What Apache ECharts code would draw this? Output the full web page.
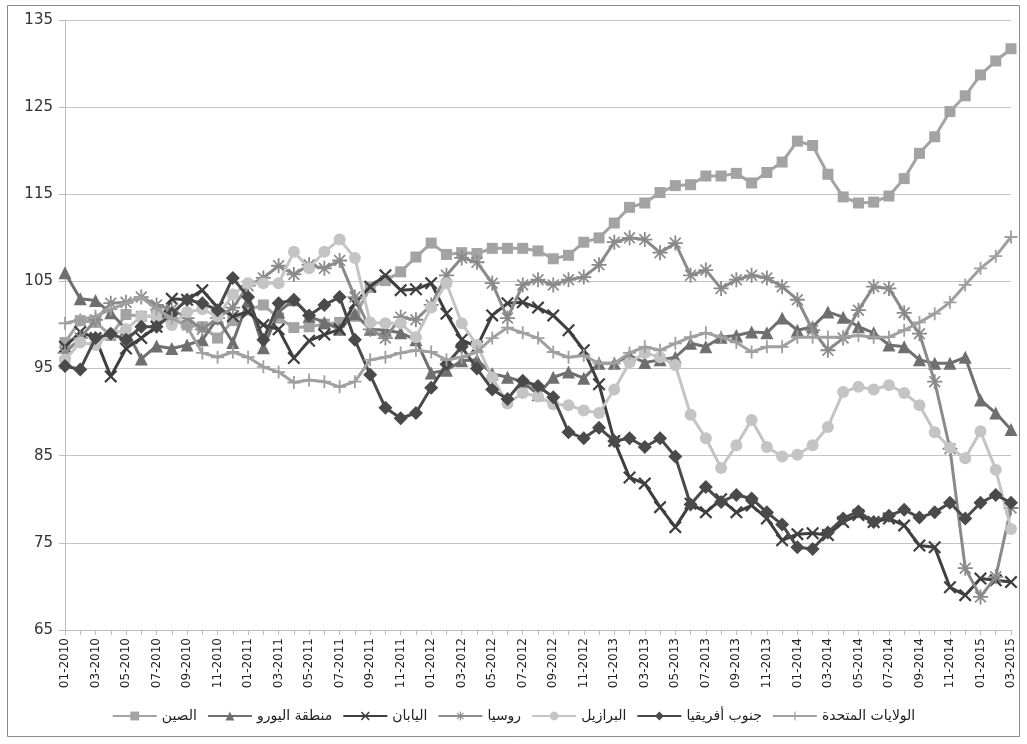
<!DOCTYPE html>
<html>
<head>
<meta charset="utf-8">
<script src="https://cdn.jsdelivr.net/npm/echarts@6/dist/echarts.min.js"></script>
<style>
html,body{margin:0;padding:0;background:#fff;}
#c{width:1027px;height:744px;}
</style>
</head>
<body>
<div id="c"></div>
<script>
const months = ['01-2010','02-2010','03-2010','04-2010','05-2010','06-2010','07-2010','08-2010','09-2010','10-2010','11-2010','12-2010',
'01-2011','02-2011','03-2011','04-2011','05-2011','06-2011','07-2011','08-2011','09-2011','10-2011','11-2011','12-2011',
'01-2012','02-2012','03-2012','04-2012','05-2012','06-2012','07-2012','08-2012','09-2012','10-2012','11-2012','12-2012',
'01-2013','02-2013','03-2013','04-2013','05-2013','06-2013','07-2013','08-2013','09-2013','10-2013','11-2013','12-2013',
'01-2014','02-2014','03-2014','04-2014','05-2014','06-2014','07-2014','08-2014','09-2014','10-2014','11-2014','12-2014',
'01-2015','02-2015','03-2015'];

const seriesNames = ['الصين','منطقة اليورو','اليابان','روسيا','البرازيل','جنوب أفريقيا','الولايات المتحدة'];

const china = [98,100.5,100.3,98.8,101.2,101,101,100.8,100,99.8,98.5,100.5,101.7,102.3,100.8,99.7,99.8,100.1,100.3,101,104.3,105.1,106.1,107.8,109.4,108.1,108.3,108.2,108.8,108.8,108.8,108.5,107.6,108,109.5,110,111.7,113.5,114,115.2,116,116.1,117.1,117.1,117.4,116.3,117.5,118.7,121.1,120.6,117.3,114.7,114,114.1,114.8,116.8,119.7,121.6,124.5,126.3,128.7,130.3,131.7];
const eurozone = [106,103,102.8,101.4,99.5,96.1,97.6,97.3,97.7,98.3,100.8,98,102.8,97.4,101.5,102.9,101,100.3,99.5,101.3,99.5,99.4,99.1,98.3,94.5,94.8,95.9,96,94.4,94,93.5,92,94,94.6,93.9,95.6,95.6,96.5,95.7,96,96.3,97.9,97.5,98.6,98.8,99.2,99.1,100.8,99.4,99.8,101.5,100.9,99.8,99.1,97.7,97.5,96,95.6,95.6,96.3,91.4,89.9,88];
const japan = [97.5,99.2,98.5,94.1,97.3,98.5,99.8,103,102.9,104,102,101,101.5,100,99.5,96.2,98.2,98.9,99.5,102.5,104.4,105.7,104,104.1,104.8,101.3,98.3,97.5,101.1,102.5,102.6,102,101.1,99.4,97.1,93.2,86.7,82.5,81.8,79.1,76.8,79.5,78.5,80,78.5,79.3,77.8,75.3,76,76.1,75.9,77.4,78.2,77.4,77.8,77,74.7,74.5,69.9,69,70.9,70.7,70.5];
const russia = [96.8,98.5,100.6,102.5,102.6,103.2,102.3,101.8,100.8,99.5,100.8,102,104.5,105.4,106.8,105.8,106.9,106.5,107.4,103.2,99.5,98.5,100.9,100.6,102.3,105.7,107.7,107.2,104.8,100.8,104.6,105.2,104.6,105.2,105.5,106.9,109.5,110,109.8,108.3,109.4,105.7,106.3,104.2,105.2,105.7,105.4,104.4,102.9,99.4,97.1,98.5,101.7,104.4,104.2,101.4,99,93.5,85.8,72.1,68.8,71.1,79];
const brazil = [96,98,97.7,99,99.5,101,101,100,101.5,101.8,101,103.5,104.8,104.8,104.8,108.4,106.5,108.4,109.8,107.7,100.3,100.2,100.2,98.6,102,104.8,100.2,97.7,94,91,92.2,91.8,90.9,90.8,90.2,89.9,92.6,95.7,96.8,96.3,95.4,89.7,87,83.6,86.2,89.1,86,84.9,85.1,86.2,88.3,92.3,92.9,92.6,93.1,92.2,90.8,87.7,85.9,84.7,87.8,83.4,76.6];
const southAfrica = [95.3,94.9,98.5,99,98.3,99.8,99.8,101.3,102.9,102.5,101.7,105.4,103.2,98.3,102.5,102.9,101.1,102.3,103.2,98.3,94.3,90.5,89.3,89.9,92.8,95.5,97.5,95,92.6,91.5,93.6,93,91.7,87.7,87,88.2,86.7,87,86,87,84.9,79.4,81.4,79.7,80.5,80.1,78.5,77.1,74.5,74.3,76.2,77.8,78.6,77.4,78.1,78.8,77.9,78.5,79.6,77.8,79.6,80.5,79.6];
const usa = [100.2,100.6,101,101.8,102.5,103.2,101.8,100.8,99.8,96.8,96.3,96.9,96.3,95.2,94.6,93.4,93.7,93.5,92.9,93.5,96,96.3,96.8,97.1,96.9,96,96.3,96.9,98.5,99.7,99.1,98.5,96.9,96.3,96.5,95.6,95.6,96.8,97.5,97.1,97.9,98.6,99.1,98.6,98,96.9,97.5,97.5,98.6,98.6,98.6,98.6,98.8,98.6,98.6,99.4,100.3,101.3,102.6,104.6,106.5,107.9,110.1];

const yTicks = {min: 65, max: 135, interval: 10};

const X_PATH = 'path://M1.2,0 L5,3.8 L8.8,0 L10,1.2 L6.2,5 L10,8.8 L8.8,10 L5,6.2 L1.2,10 L0,8.8 L3.8,5 L0,1.2 Z';
const PLUS_PATH = 'path://M4.3,0 H5.7 V4.3 H10 V5.7 H5.7 V10 H4.3 V5.7 H0 V4.3 H4.3 Z';
const STAR_PATH = 'path://M4.4,0 H5.6 V3.6 L8.2,1 L9,1.8 L6.4,4.4 H10 V5.6 H6.4 L9,8.2 L8.2,9 L5.6,6.4 V10 H4.4 V6.4 L1.8,9 L1,8.2 L3.6,5.6 H0 V4.4 H3.6 L1,1.8 L1.8,1 L4.4,3.6 Z';

const styles = [
  {data: china, color: '#a3a3a3', symbol: 'rect', size: 11},
  {data: eurozone, color: '#6f6f6f', symbol: 'triangle', size: 13},
  {data: japan, color: '#3f3f3f', symbol: X_PATH, size: 13},
  {data: russia, color: '#8a8a8a', symbol: STAR_PATH, size: 15},
  {data: brazil, color: '#c4c4c4', symbol: 'circle', size: 12},
  {data: southAfrica, color: '#4a4a4a', symbol: 'diamond', size: 14},
  {data: usa, color: '#a0a0a0', symbol: PLUS_PATH, size: 13}
];

const chart = echarts.init(document.getElementById('c'), null, {renderer: 'canvas'});
const FONT = 'DejaVu Sans';

chart.setOption({
  backgroundColor: '#ffffff',
  animation: false,
  textStyle: {fontFamily: FONT},
  graphic: [{
    type: 'rect', silent: true, z: -10,
    shape: {x: 7.5, y: 5.5, width: 1012, height: 731},
    style: {fill: 'none', stroke: '#8c8c8c', lineWidth: 1}
  }],
  grid: {left: 65, right: 16, top: 20, bottom: 114, containLabel: false},
  legend: {
    bottom: 16,
    left: 'center',
    itemWidth: 44,
    itemHeight: 11,
    itemGap: 10,
    textStyle: {fontSize: 14, color: '#222', fontFamily: FONT},
    data: seriesNames
  },
  xAxis: {
    type: 'category',
    data: months,
    boundaryGap: false,
    axisLine: {lineStyle: {color: '#bdbdbd', width: 1}},
    axisTick: {show: true, interval: 0, length: 5, lineStyle: {color: '#bdbdbd'}},
    axisLabel: {rotate: 90, interval: 1, fontSize: 12, color: '#222', margin: 8, fontFamily: FONT},
    splitLine: {show: false}
  },
  yAxis: {
    type: 'value',
    min: yTicks.min, max: yTicks.max, interval: yTicks.interval,
    axisLine: {show: true, lineStyle: {color: '#bdbdbd', width: 1}},
    axisTick: {show: true, inside: false, length: 6, lineStyle: {color: '#bdbdbd'}},
    axisLabel: {fontSize: 15, color: '#333', margin: 12, fontFamily: FONT},
    splitLine: {show: true, lineStyle: {color: '#c4c4c4', width: 1}}
  },
  series: styles.map((s, i) => ({
    name: seriesNames[i],
    type: 'line',
    data: s.data,
    symbol: s.symbol,
    symbolSize: s.size,
    showAllSymbol: true,
    color: s.color,
    lineStyle: {color: s.color, width: 3},
    itemStyle: {color: s.color},
    z: 2 + i
  }))
});
</script>
</body>
</html>
